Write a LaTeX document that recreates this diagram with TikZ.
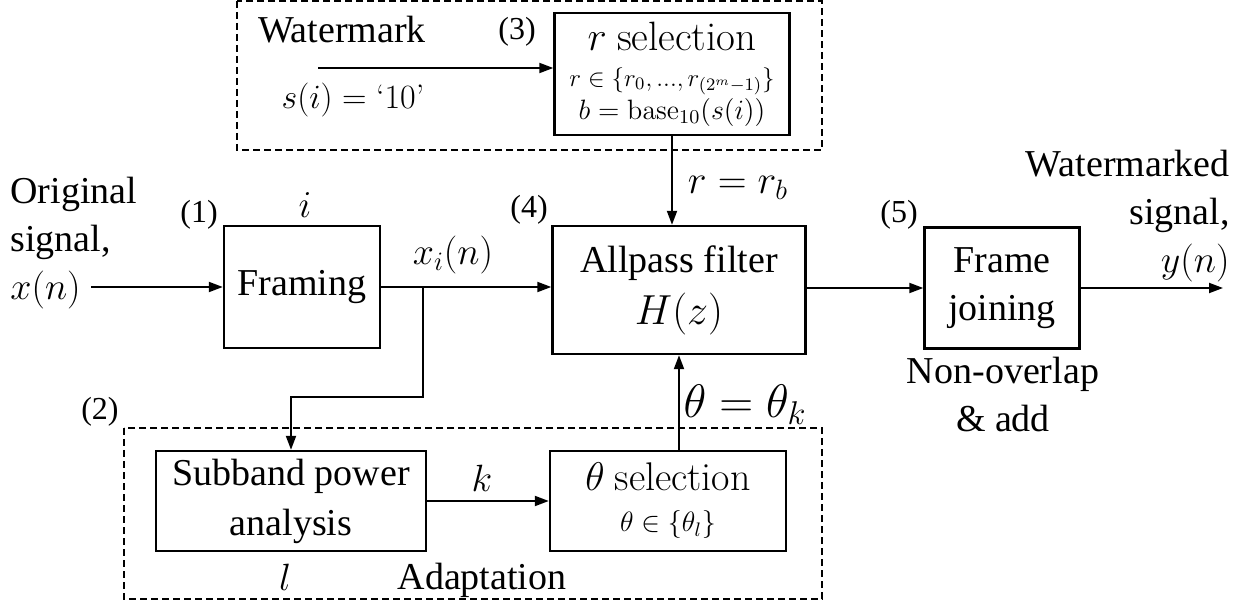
\RequirePackage{fix-cm}
\documentclass[tikz,border=0pt]{standalone}
\usepackage[no-math]{fontspec}
\setmainfont{Liberation Serif}
\newfontfamily\cmfont{Latin Modern Roman}
\usetikzlibrary{arrows.meta}

\begin{document}
\begin{tikzpicture}[x=0.5pt,y=-0.5pt,>={Triangle[length=7pt,width=5pt]},
  block/.style={draw,line width=1.2pt,inner sep=0pt,align=center,
                font=\fontsize{19}{24}\selectfont},
  group/.style={draw,line width=1.3pt,dash pattern=on 3.5pt off 2pt},
  txt/.style={inner sep=0pt,font=\fontsize{19}{24}\selectfont},
  num/.style={inner sep=0pt,font=\fontsize{16}{18}\selectfont},
  sig/.style={->,line width=1pt}]

  \useasboundingbox (0,0) rectangle (1258,614);

  %--- dashed groups (watermark / adaptation) ---
  \draw[group] (237,1) rectangle (822,150);
  \draw[group] (124,428) rectangle (822,599);

  %--- blocks ---
  \node[block,minimum width=78pt,minimum height=61pt] (framing) at (302,287) {Framing};
  \node[block,minimum width=126.5pt,minimum height=64pt] (allpass) at (679,290)
      {Allpass filter\\[2pt]{\fontsize{21}{24}\selectfont$H(z)$}};
  \node[block,minimum width=117.5pt,minimum height=61pt] (rsel) at (672,74)
      {{\fontsize{20.5}{22}\selectfont$r$ \cmfont selection}\\[-6pt]
       {\fontsize{12.5}{14}\selectfont$r\in\{r_0,...,r_{(2^m-1)}\}$}\\[-7.5pt]
       {\fontsize{14}{16}\selectfont$b=\mathrm{base}_{10}(s(i))$}};
  \node[block,minimum width=77.5pt,minimum height=60.5pt] (join) at (1002,288) {Frame\\joining};
  \node[block,minimum width=135pt,minimum height=50pt] (subband) at (291,501)
      {Subband power\\[1pt]analysis};
  \node[block,minimum width=118pt,minimum height=50pt] (thsel) at (668,501)
      {{\fontsize{20}{22}\selectfont$\theta$ \cmfont selection}\\[-3.5pt]
       {\fontsize{14}{16}\selectfont$\theta\in\{\theta_l\}$}};

  %--- in / out texts ---
  \node[txt,align=left,anchor=north west] (orig) at (10,177) {Original\\signal,\\$x(n)$};
  \node[txt,align=right,anchor=north east] (wmout) at (1230,150) {Watermarked\\signal,\\$y(n)$};
  \coordinate (xin) at (91,287);
  \coordinate (yout) at (1223,288);
  \coordinate (split) at (423,287);
  \coordinate (wm) at (318,68);

  %--- signal path ---
  \draw[sig] (xin) -- (framing.west);
  \draw[sig] (framing.east) -- (framing.east -| allpass.west);
  \draw[sig] (allpass.east |- join.west) -- (join.west);
  \draw[sig] (join.east) -- (yout);

  %--- side branches ---
  \draw[sig] (split) -- ++(0,110) -| (subband.north);
  \draw[sig] (subband.east) -- (thsel.west);
  \draw[sig] (allpass.south |- thsel.north) -- (allpass.south);
  \draw[sig] (wm) -- (wm -| rsel.west);
  \draw[sig] (rsel.south) -- (rsel.south |- allpass.north);

  %--- step numbers ---
  \node[num] (n1) at (199,215) {(1)};
  \node[num] (n2) at (100,412) {(2)};
  \node[num] (n3) at (517,32) {(3)};
  \node[num] (n4) at (529,210) {(4)};
  \node[num] (n5) at (899,215) {(5)};

  %--- labels ---
  \node[txt] (lwm) at (342,30) {Watermark};
  \node[txt,font=\fontsize{17}{20}\selectfont] (ls) at (353,100) {$s(i)=\mbox{\cmfont ‘10’}$};
  \node[txt] (li) at (305,205) {$i$};
  \node[txt] (lx) at (453,255) {$x_i(n)$};
  \node[txt,font=\fontsize{20}{24}\selectfont] (lr) at (738,188) {$r=r_b$};
  \node[txt,font=\fontsize{23.5}{24}\selectfont] (lth) at (745,405) {$\theta=\theta_k$};
  \node[txt] (lk) at (482,478) {$k$};
  \node[txt] (ll) at (285,577) {$l$};
  \node[txt] (ladapt) at (482,580) {Adaptation};
  \node[txt,align=center] (lnon) at (1003,395) {Non-overlap\\\& add};

\end{tikzpicture}
\end{document}
